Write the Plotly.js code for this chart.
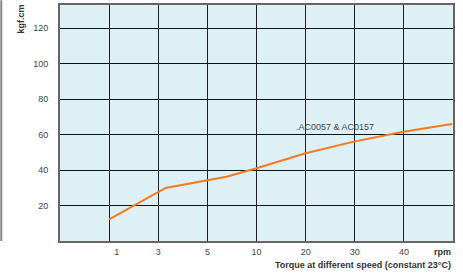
<!DOCTYPE html>
<html>
<head>
<meta charset="utf-8">
<script src="https://cdn.plot.ly/plotly-3.0.1.min.js"></script>
<style>html,body{margin:0;padding:0;background:#fff}#chart{width:463px;height:273px}</style>
</head>
<body>
<div id="chart"></div>
<script>
// Speed categories (rpm) shown on x axis
const speedLabels = ['', '\u00a0\u00a0\u00a0\u00a0\u00a0\u00a01', '3', '5', '10', '20', '30', '40', ''];
const speedPositions = [0, 1, 2, 3, 4, 5, 6, 7, 8];
// Curve points (x in category-position units, torque in kgf.cm)
const curveX = [1.0, 2.15, 3.39, 4.0, 5.0, 5.98, 6.99, 7.98];
const torque = [12.2, 29.9, 36.2, 41.0, 49.4, 56.0, 61.6, 65.9];
const yTicks = [20, 40, 60, 80, 100, 120];
const seriesName = '.AC0057 & AC0157';

const fontFam = '"Liberation Sans", Arial, sans-serif';

const trace = {
  x: curveX, y: torque, type: 'scatter', mode: 'lines',
  line: {color: '#f47a20', width: 2}, hoverinfo: 'skip', showlegend: false
};

const layout = {
  width: 463, height: 273,
  margin: {l: 60, r: 10, t: 5, b: 32},
  paper_bgcolor: '#ffffff', plot_bgcolor: '#dcf0f5',
  font: {family: fontFam, size: 9, color: '#444'},
  showlegend: false,
  xaxis: {
    range: [0, 8], tickmode: 'array', tickvals: speedPositions, ticktext: speedLabels,
    showgrid: true, gridcolor: '#1e1e1e', gridwidth: 1,
    showline: true, mirror: true, linecolor: '#666', linewidth: 2,
    zeroline: false, ticks: '', ticklabelstandoff: 1,
    tickfont: {family: fontFam, size: 9, color: '#444'}, fixedrange: true
  },
  yaxis: {
    range: [0, 133], tickmode: 'array', tickvals: yTicks,
    showgrid: true, gridcolor: '#111111', gridwidth: 1,
    showline: true, mirror: true, linecolor: '#666', linewidth: 2,
    zeroline: false, ticks: '', ticklabelstandoff: 8,
    tickfont: {family: fontFam, size: 9, color: '#444'}, fixedrange: true
  },
  annotations: [
    {text: seriesName, xref: 'x', yref: 'y', x: 5.59, y: 64.2, showarrow: false,
     font: {family: fontFam, size: 9, color: '#444'}},
    {text: '<b>rpm</b>', xref: 'paper', yref: 'paper', x: 1, y: 0, yshift: -4,
     xanchor: 'right', yanchor: 'top', showarrow: false,
     font: {family: fontFam, size: 9, color: '#333'}},
    {text: '<b>Torque at different speed (constant 23°C)</b>', xref: 'paper', yref: 'paper',
     x: 1, y: 0, yshift: -17, xanchor: 'right', yanchor: 'top', showarrow: false,
     font: {family: fontFam, size: 9, color: '#333'}},
    {text: '<b>kgf.cm</b>', xref: 'paper', yref: 'paper', x: 0, xshift: -40, y: 1, yshift: 2,
     xanchor: 'center', yanchor: 'top', textangle: -90, showarrow: false,
     font: {family: fontFam, size: 9, color: '#333'}}
  ],
  shapes: [
    {type: 'line', xref: 'paper', yref: 'paper', x0: -0.1495, x1: -0.1495, y0: 0, y1: 1.02,
     line: {color: '#888', width: 2}}
  ]
};

Plotly.newPlot('chart', [trace], layout, {displayModeBar: false, staticPlot: true});
</script>
</body>
</html>
